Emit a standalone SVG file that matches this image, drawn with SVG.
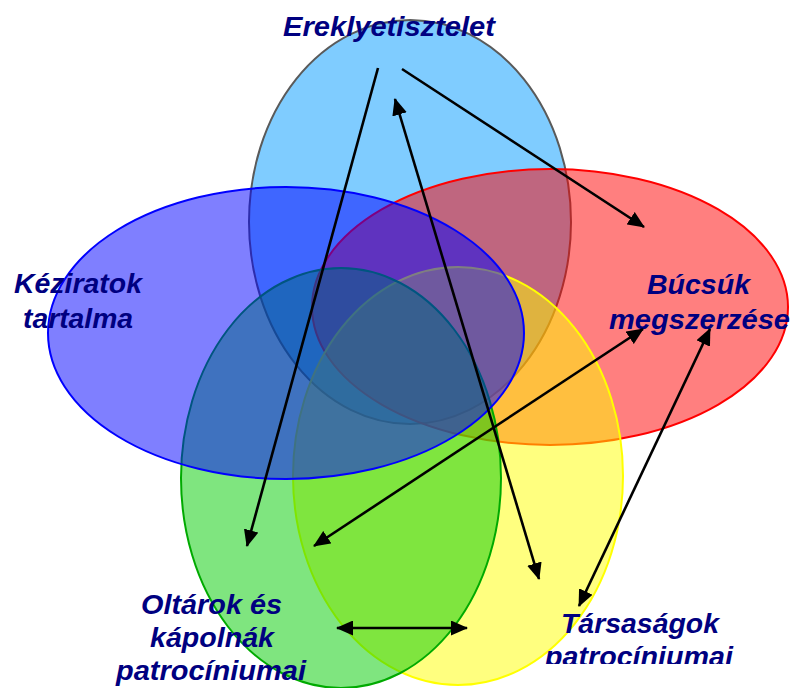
<svg xmlns="http://www.w3.org/2000/svg" width="792" height="688" viewBox="0 0 792 688">
<style>
.lbl{font-family:"Liberation Sans",Arial,sans-serif;font-weight:bold;font-style:italic;font-size:28.5px;fill:#000080}
.ell{fill-opacity:0.5;stroke-width:2}
.con line{stroke:#000;stroke-width:2.6;fill:none}
</style>
<defs>
<marker id="ah" viewBox="0 0 17 15" markerWidth="17" markerHeight="15" refX="16" refY="7.5" orient="auto-start-reverse" markerUnits="userSpaceOnUse">
<path d="M0,0 L17,7.5 L0,15 z" fill="#000"/>
</marker>
<clipPath id="clipT"><rect x="0" y="0" width="792" height="664"/></clipPath>
</defs>
<rect width="792" height="688" fill="#fff"/>
<g id="ereklyetisztelet">
<ellipse class="ell" cx="410" cy="222" rx="161" ry="202" fill="#0099FF" stroke="#5a5a5a" stroke-width="1.5"/>
<text class="lbl" x="283" y="36" textLength="212" lengthAdjust="spacingAndGlyphs">Ereklyetisztelet</text>
</g>
<g id="bucsuk">
<ellipse class="ell" cx="550" cy="307" rx="238" ry="138" fill="#FF0000" stroke="#FF0000"/>
<text class="lbl" x="647" y="294" textLength="103" lengthAdjust="spacingAndGlyphs">Búcsúk</text>
<text class="lbl" x="609" y="329" textLength="181" lengthAdjust="spacingAndGlyphs">megszerzése</text>
</g>
<g id="tarsasagok">
<ellipse class="ell" cx="458" cy="476" rx="165" ry="209" fill="#FFFF00" stroke="#FFFF00"/>
<g clip-path="url(#clipT)">
<text class="lbl" x="561" y="633" textLength="158" lengthAdjust="spacingAndGlyphs">Társaságok</text>
<text class="lbl" x="545" y="666" textLength="188" lengthAdjust="spacingAndGlyphs">patrocíniumai</text>
</g>
</g>
<g id="oltarok">
<ellipse class="ell" cx="341" cy="478" rx="160" ry="210" fill="#00CC00" stroke="#00AA00"/>
<text class="lbl" x="141" y="614" textLength="141" lengthAdjust="spacingAndGlyphs">Oltárok és</text>
<text class="lbl" x="150" y="647" textLength="124" lengthAdjust="spacingAndGlyphs">kápolnák</text>
<text class="lbl" x="116" y="680" textLength="190" lengthAdjust="spacingAndGlyphs">patrocíniumai</text>
</g>
<g id="keziratok">
<ellipse class="ell" cx="286" cy="333" rx="238" ry="146" fill="#0000FF" stroke="#0000FF"/>
<text class="lbl" x="14" y="293" textLength="128" lengthAdjust="spacingAndGlyphs">Kéziratok</text>
<text class="lbl" x="23" y="328" textLength="110" lengthAdjust="spacingAndGlyphs">tartalma</text>
</g>
<g id="connectors" class="con">
<line x1="378" y1="68" x2="247" y2="546" marker-end="url(#ah)"/>
<line x1="402" y1="69" x2="644" y2="227" marker-end="url(#ah)"/>
<line x1="539" y1="579" x2="395" y2="99" marker-start="url(#ah)" marker-end="url(#ah)"/>
<line x1="314" y1="546" x2="643" y2="329" marker-start="url(#ah)" marker-end="url(#ah)"/>
<line x1="579" y1="606" x2="710" y2="329" marker-start="url(#ah)" marker-end="url(#ah)"/>
<line x1="337" y1="628" x2="467" y2="628" marker-start="url(#ah)" marker-end="url(#ah)"/>
</g>
</svg>
